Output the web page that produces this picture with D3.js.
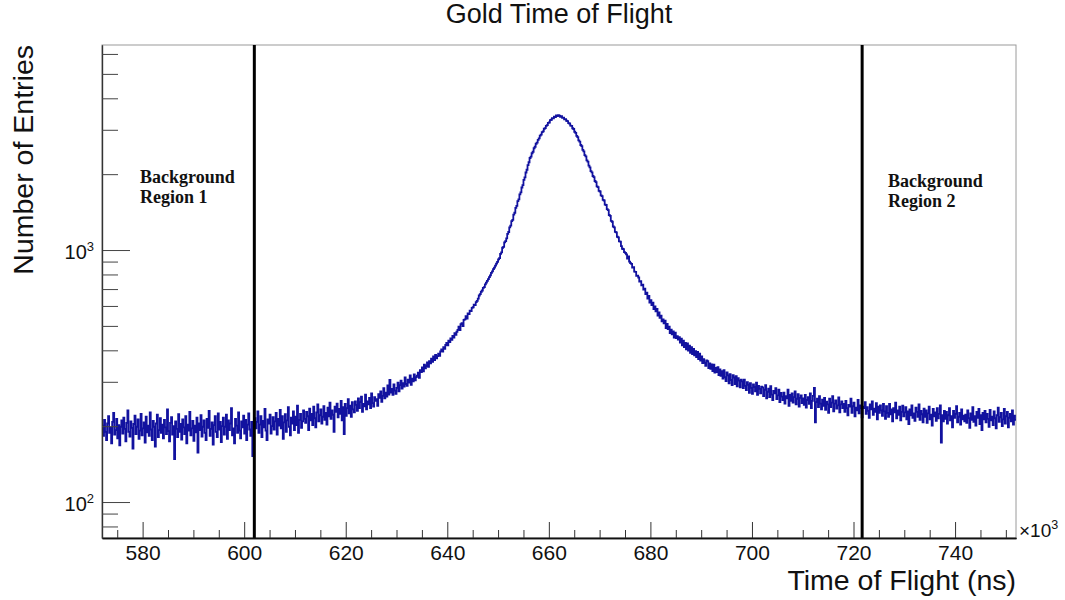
<!DOCTYPE html>
<html>
<head>
<meta charset="utf-8">
<script src="https://cdn.jsdelivr.net/npm/d3@7"></script>
<style>
  body { margin: 0; background: #fff; }
  svg { display: block; }
  text { font-family: "Liberation Sans", Arial, Helvetica, sans-serif; fill: #111; }
</style>
</head>
<body>
<svg id="chart" width="1065" height="600"></svg>
<script>
// Histogram binning: time of flight in units of 10^3 ns
const histStart = 572;
const binWidth = 0.2;

// Entries per bin (900 bins, 572 -> 752)
const counts = [
  201,183,212,190,176,205,219,188,197,171,208,226,185,193,214,179,202,168,199,211,
  187,216,195,174,206,231,190,182,209,197,163,204,220,186,199,213,178,192,224,184,
  196,207,172,218,189,201,183,227,194,176,210,199,166,205,222,181,193,215,188,203,
  179,212,198,186,233,191,174,206,217,185,200,148,209,195,181,223,190,204,177,213,
  198,186,219,171,203,192,228,184,196,210,175,201,189,216,157,205,193,221,182,199,
  211,188,176,214,197,230,183,195,207,169,202,219,190,181,225,194,208,173,200,216,
  185,199,222,178,211,193,205,236,184,196,171,214,201,188,227,192,179,209,198,220,
  187,212,176,203,225,194,183,208,152,201,
  215,196,208,229,188,203,219,181,210,198,234,192,176,213,205,222,187,200,217,194,
  209,226,185,214,201,232,196,219,178,207,223,190,211,238,199,184,216,205,229,193,
  218,202,241,188,212,224,197,209,231,214,
  206,228,219,193,235,211,224,202,239,215,198,227,244,209,221,233,205,218,240,212,
  226,203,237,219,248,214,231,222,190,239,228,246,217,234,224,252,211,238,186,245,
  220,236,256,225,241,218,249,233,227,251,
  243,230,258,236,249,262,228,245,240,267,233,251,244,259,236,270,247,239,261,252,
  256,241,268,259,275,250,264,283,258,272,262,290,267,305,272,281,266,293,277,269,
  284,298,275,291,303,282,296,287,312,294,289,306,298,318,292,309,301,321,304,313,
  317,326,311,334,328,342,330,351,339,346,358,344,362,355,371,360,378,366,384,372,
  379,388,380,396,403,395,412,405,420,428,419,437,431,446,440,456,449,468,461,474,
  482,497,481,508,513,499,528,531,546,534,560,557,575,572,590,593,607,604,621,628,
  641,660,668,683,691,708,712,731,743,754,767,781,793,812,823,840,852,868,884,897,
  918,929,965,979,1021,1030,1072,1085,1113,1160,1179,1231,1249,1302,1318,1381,1406,1470,1497,1563,
  1589,1662,1694,1771,1808,1897,1942,2031,2082,2171,2230,2318,2346,2421,2455,2534,2569,2641,2668,2735,
  2772,2846,2868,2935,2957,3029,3048,3112,3131,3196,3207,3279,3288,3334,3327,3381,3369,3425,3398,3431,
  3412,3377,3395,3349,3352,3297,3306,3258,3247,3189,3178,3116,3109,3043,3022,2947,2917,2836,2808,2726,
  2693,2611,2584,2497,2463,2381,2352,2270,2241,2162,2127,2058,2034,1967,1948,1879,1861,1788,1776,1718,
  1707,1648,1637,1581,1572,1515,1509,1452,1440,1377,1366,1306,1295,1240,1229,1181,1176,1129,1122,1082,
  1079,1036,1012,1009,981,974,961,925,944,899,887,881,852,856,821,819,790,791,778,749,
  752,724,729,697,702,669,677,641,657,619,633,604,618,583,597,571,584,549,566,538,
  549,521,531,512,524,490,509,486,497,468,483,463,476,449,470,447,455,441,451,429,
  445,419,437,412,428,404,426,399,417,391,412,386,405,382,397,376,394,369,388,364,
  378,356,369,357,347,365,362,340,355,338,352,331,351,326,341,328,343,319,336,317,
  331,309,334,313,302,327,318,296,322,305,291,319,312,294,316,288,310,303,285,306,
  301,283,306,289,278,299,292,271,296,284,269,293,286,275,298,266,289,281,270,287,
  285,263,279,291,258,274,282,261,288,267,254,276,270,283,256,265,279,249,271,262,
  254,272,246,263,258,279,241,266,252,270,248,261,275,244,257,268,239,259,265,247,
  258,243,266,237,254,261,245,270,236,252,264,284,207,249,257,238,263,246,233,255,
  241,259,232,250,244,226,257,238,248,263,229,246,253,235,242,260,227,244,251,236,
  245,228,252,236,221,243,239,257,226,240,248,219,237,231,254,225,242,236,217,239,
  236,249,224,238,230,216,244,233,251,222,235,228,247,213,239,226,242,231,220,245,
  229,214,240,226,218,245,223,233,209,236,227,248,215,231,222,239,211,228,241,219,
  227,238,213,229,204,233,221,242,216,225,210,237,228,218,244,212,230,223,207,235,
  218,231,206,225,239,213,222,201,234,219,227,210,236,215,224,242,172,221,209,230,
  214,228,205,221,236,211,219,198,230,216,224,240,207,218,226,203,233,213,220,209,
  222,206,231,215,197,225,212,238,208,219,201,228,216,234,204,221,193,226,213,230,
  207,224,214,199,232,211,218,202,229,215,196,221,237,208,217,226,200,213,234,205,
  219,228,198,216,224,209,231,203,220,212
];

const xMajorTicks = [580, 600, 620, 640, 660, 680, 700, 720, 740];
const xMinorTicks = [575, 585, 590, 595, 605, 610, 615, 625, 630, 635, 645, 650, 655,
                     665, 670, 675, 685, 690, 695, 705, 710, 715, 725, 730, 735, 745, 750];
const yMajorTicks = [100, 1000];
const yMajorExp = ["2", "3"];
const yMinorTicks = [80, 90, 200, 300, 400, 500, 600, 700, 800, 900,
                     2000, 3000, 4000, 5000, 6000];

// Boundaries of the two background windows
const regionCuts = [602, 721.7];
const regionLabels = [["Background", "Region 1"], ["Background", "Region 2"]];

const titleText = "Gold Time of Flight";
const xTitle = "Time of Flight (ns)";
const yTitle = "Number of Entries";

// ---- layout ----
const frame = { left: 102, right: 1016, top: 45, bottom: 538 };
const svg = d3.select("#chart");

const x = d3.scaleLinear()
  .domain([histStart, histStart + counts.length * binWidth])
  .range([frame.left, frame.right]);
const y = d3.scaleLog()
  .domain([72, 6510])
  .range([frame.bottom, frame.top]);

// frame (top/right edges are light)
svg.append("rect")
  .attr("x", frame.left).attr("y", frame.top)
  .attr("width", frame.right - frame.left).attr("height", frame.bottom - frame.top)
  .attr("fill", "none").attr("stroke", "#9a9a9a").attr("stroke-width", 1);

// histogram as a step line
const pts = counts.map((c, i) => [histStart + i * binWidth, c]);
pts.push([histStart + counts.length * binWidth, counts[counts.length - 1]]);
svg.append("clipPath").attr("id", "plotclip").append("rect")
  .attr("x", frame.left).attr("y", frame.top)
  .attr("width", frame.right - frame.left).attr("height", frame.bottom - frame.top);
svg.append("path")
  .datum(pts)
  .attr("clip-path", "url(#plotclip)")
  .attr("fill", "none")
  .attr("stroke", "#12129f")
  .attr("stroke-width", 1.8)
  .attr("d", d3.line().x(d => x(d[0])).y(d => y(d[1])).curve(d3.curveStepAfter));

// region boundaries
svg.selectAll("line.cut").data(regionCuts).join("line")
  .attr("class", "cut")
  .attr("x1", d => x(d)).attr("x2", d => x(d))
  .attr("y1", frame.top).attr("y2", frame.bottom)
  .attr("stroke", "#000").attr("stroke-width", 3);

// region labels
const labelPos = [{ x: 140, y: 183 }, { x: 888, y: 187 }];
regionLabels.forEach((lines, k) => {
  const t = svg.append("text")
    .attr("x", labelPos[k].x).attr("y", labelPos[k].y)
    .style("font-family", '"Liberation Serif", "Times New Roman", serif')
    .style("font-weight", "bold").style("font-size", "18px");
  lines.forEach((s, j) => t.append("tspan")
    .attr("x", labelPos[k].x).attr("dy", j === 0 ? 0 : 20)
    .style("font-family", '"Liberation Serif", "Times New Roman", serif')
    .text(s));
});

// x axis: major + minor ticks pointing into the frame
const gx = svg.append("g").attr("transform", `translate(0,${frame.bottom})`);
gx.call(d3.axisBottom(x).tickValues(xMajorTicks).tickSize(-16).tickSizeOuter(0)
  .tickPadding(7).tickFormat(d3.format("d")));
gx.append("g").call(d3.axisBottom(x).tickValues(xMinorTicks).tickSize(-8)
  .tickSizeOuter(0).tickFormat(""));
gx.selectAll("path.domain").attr("stroke", "#111").attr("stroke-width", 1.5);
gx.selectAll(".tick line").attr("stroke", "#333");
gx.selectAll(".tick text").style("font-size", "21px").attr("fill", "#111");

// y axis: log decades with minor ticks
const gy = svg.append("g").attr("transform", `translate(${frame.left},0)`);
gy.call(d3.axisLeft(y).tickValues(yMajorTicks).tickSize(-28).tickSizeOuter(0).tickFormat(""));
gy.append("g").call(d3.axisLeft(y).tickValues(yMinorTicks).tickSize(-16)
  .tickSizeOuter(0).tickFormat(""));
gy.selectAll("path.domain").attr("stroke", "#333").attr("stroke-width", 1.2);
gy.selectAll(".tick line").attr("stroke", "#444");

// decade labels 10^n
yMajorTicks.forEach((v, i) => {
  const t = svg.append("text")
    .attr("x", 94).attr("y", y(v) + 9)
    .attr("text-anchor", "end")
    .style("font-size", "20px");
  t.append("tspan").text("10");
  t.append("tspan").attr("dy", -8).style("font-size", "13px").text(yMajorExp[i]);
});

// axis multiplier
const mult = svg.append("text")
  .attr("x", 1019).attr("y", 537)
  .style("font-size", "19px");
mult.append("tspan").text("\u00d710");
mult.append("tspan").attr("dy", -8).style("font-size", "12.5px").text("3");

// titles
svg.append("text")
  .attr("x", 559).attr("y", 23)
  .attr("text-anchor", "middle")
  .style("font-size", "27px")
  .text(titleText);

svg.append("text")
  .attr("x", frame.right).attr("y", 590)
  .attr("text-anchor", "end")
  .style("font-size", "28.5px")
  .text(xTitle);

svg.append("text")
  .attr("transform", `translate(33,${frame.top}) rotate(-90)`)
  .attr("text-anchor", "end")
  .style("font-size", "28.5px")
  .text(yTitle);
</script>
</body>
</html>
